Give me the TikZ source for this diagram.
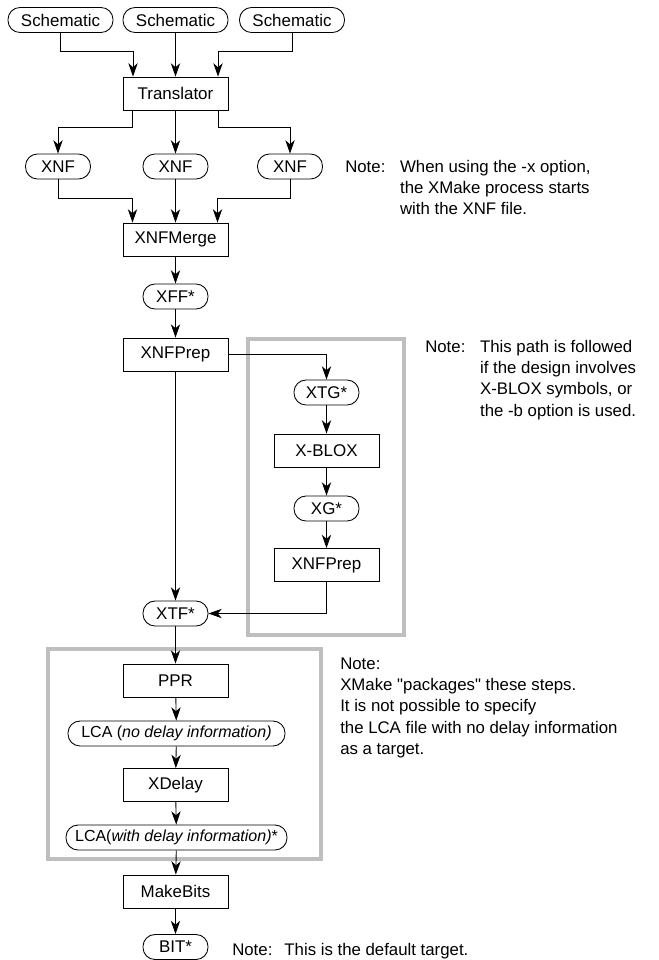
\documentclass[tikz,border=0pt]{standalone}
\usepackage{fontspec}
\setmainfont{Liberation Sans}
\usetikzlibrary{arrows.meta,calc}
\tikzset{
  proc/.style={draw,line width=0.65pt,minimum width=78.75pt,minimum height=24.75pt,inner sep=0pt},
  file/.style={draw,line width=0.65pt,rounded corners=9pt,minimum width=48.75pt,minimum height=18.75pt,inner sep=0pt},
  arr/.style={line width=0.65pt,-{Stealth[length=10pt,width=7pt,inset=3pt]}},
  frame/.style={draw=black!25,line width=3.4pt},
  note/.style={anchor=base west,inner sep=0pt,font=\fontsize{12.6}{16}\selectfont}
}
\begin{document}
\begin{tikzpicture}[x=0.75pt,y=-0.75pt,font=\fontsize{12.7}{15}\selectfont]
  \useasboundingbox (0,0) rectangle (658,960);
  % grey frames
  \draw[frame] (248,339) rectangle (404,635);
  \draw[frame] (48,649) rectangle (321,859);
  % main column
  \node[file,minimum width=78.75pt] (sch1) at (60.5,20) {Schematic};
  \node[file,minimum width=78.75pt] (sch2) at (175.5,20) {Schematic};
  \node[file,minimum width=78.75pt] (sch3) at (292,20) {Schematic};
  \node[proc] (trans) at (175.5,93.5) {Translator};
  \node[file] (xnf1) at (58,166.5) {XNF};
  \node[file] (xnf2) at (175.5,166.5) {XNF};
  \node[file] (xnf3) at (290,166.5) {XNF};
  \node[proc] (merge) at (175.5,239.5) {XNFMerge};
  \node[file] (xff) at (175.5,296.5) {XFF*};
  \node[proc] (prep) at (175.5,354.5) {XNFPrep};
  \node[file] (xtf) at (175.5,613.5) {XTF*};
  % X-BLOX path
  \node[file] (xtg) at (326.5,392.5) {XTG*};
  \node[proc] (blox) at (326.5,450.5) {X-BLOX};
  \node[file] (xg) at (326.5,508.5) {XG*};
  \node[proc] (prep2) at (326.5,565) {XNFPrep};
  % packaged steps
  \node[proc] (ppr) at (175.5,680.5) {PPR};
  \node[file,minimum width=162.75pt,font=\fontsize{12}{14}\selectfont] (lca1) at (176.5,733.5)
    {LCA (\textit{no delay information)}};
  \node[proc] (xdelay) at (175.5,785) {XDelay};
  \node[file,minimum width=165.75pt,font=\fontsize{12}{14}\selectfont] (lca2) at (176.5,837.5)
    {LCA(\textit{with delay information)}*};
  \node[proc] (bits) at (175.5,891.5) {MakeBits};
  \node[file] (bit) at (175.5,947) {BIT*};
  % connectors
  \draw[arr] (sch1.south) -- ++(0,18.5) -| ($(trans.north)+(-42.5,0)$);
  \draw[arr] (sch2) -- (trans);
  \draw[arr] (sch3.south) -- ++(0,18.5) -| ($(trans.north)+(42.5,0)$);
  \draw[arr] ($(trans.south)+(-43,0)$) -- ++(0,17) -| (xnf1.north);
  \draw[arr] (trans) -- (xnf2);
  \draw[arr] ($(trans.south)+(43,0)$) -- ++(0,17) -| (xnf3.north);
  \draw[arr] (xnf1.south) -- ++(0,19) -| ($(merge.north)+(-43,0)$);
  \draw[arr] (xnf2) -- (merge);
  \draw[arr] (xnf3.south) -- ++(0,19) -| ($(merge.north)+(42,0)$);
  \draw[arr] (merge) -- (xff);
  \draw[arr] (xff) -- (prep);
  \draw[arr] (prep) -- (xtf);
  \draw[arr] (prep.east) -| (xtg.north);
  \draw[arr] (xtg) -- (blox);
  \draw[arr] (blox) -- (xg);
  \draw[arr] (xg) -- (prep2);
  \draw[arr] (prep2.south) |- (xtf.east);
  \draw[arr] (xtf) -- (ppr);
  \draw[arr] (ppr) -- (lca1);
  \draw[arr] (lca1) -- (xdelay);
  \draw[arr] (xdelay) -- (lca2);
  \draw[arr] (lca2) -- (bits);
  \draw[arr] (bits) -- (bit);
  % notes
  \node[note] (note1) at (345,172) {\begin{tabular}[t]{@{}l@{\hspace{11pt}}l@{}}
    Note: & When using the -x option,\\
          & the XMake process starts\\
          & with the XNF file.\end{tabular}};
  \node[note] (note2) at (425,352) {\begin{tabular}[t]{@{}l@{\hspace{11pt}}l@{}}
    Note: & This path is followed\\
          & if the design involves\\
          & X-BLOX symbols, or\\
          & the -b option is used.\end{tabular}};
  \node[note] (note3) at (340,669) {\begin{tabular}[t]{@{}l@{}}
    Note:\\
    XMake \textquotedbl packages\textquotedbl{} these steps.\\
    It is not possible to specify\\
    the LCA file with no delay information\\
    as a target.\end{tabular}};
  \node[note] (note4) at (232,955) {Note:\hspace{9pt}This is the default target.};
\end{tikzpicture}
\end{document}
